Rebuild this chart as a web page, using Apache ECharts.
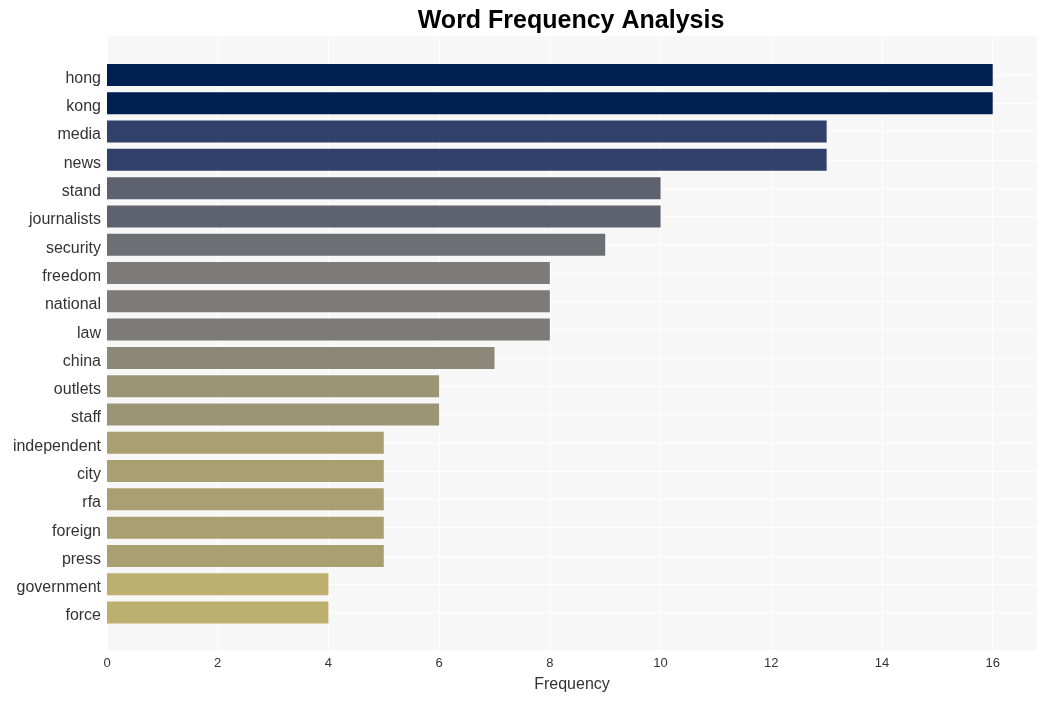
<!DOCTYPE html>
<html>
<head>
<meta charset="utf-8">
<script src="https://cdn.jsdelivr.net/npm/echarts@6/dist/echarts.min.js"></script>
<style>
  html, body { margin: 0; padding: 0; background: #fff; }
  #main { width: 1046px; height: 701px; }
</style>
</head>
<body>
<div id="main"></div>
<script>
var words = ['hong', 'kong', 'media', 'news', 'stand', 'journalists', 'security', 'freedom',
  'national', 'law', 'china', 'outlets', 'staff', 'independent', 'city', 'rfa', 'foreign',
  'press', 'government', 'force'];
var counts = [16, 16, 13, 13, 10, 10, 9, 8, 8, 8, 7, 6, 6, 5, 5, 5, 5, 5, 4, 4];
var xTicks = [0, 2, 4, 6, 8, 10, 12, 14, 16];

// colour per count (cividis-like)
var colorFor = {
  16: '#002051', 13: '#32416b', 10: '#5e626e', 9: '#6e6f74',
  8: '#7c7b78', 7: '#8b8877', 6: '#9c9575', 5: '#aa9f71', 4: '#bcaf6f'
};

var font = '"Liberation Sans", Arial, sans-serif';
var myChart = echarts.init(document.getElementById('main'));

var option = {
  backgroundColor: '#ffffff',
  title: {
    text: 'Word Frequency Analysis',
    left: 566,
    textAlign: 'center',
    top: 4,
    textStyle: { fontFamily: font, fontSize: 25, fontWeight: 'bold', color: '#000' }
  },
  grid: [
    // background panel with x axis
    { left: 107, right: 9, top: 36, bottom: 51, show: true, backgroundColor: '#f7f7f7', borderWidth: 0 },
    // bars
    { left: 107, right: 9, top: 75, bottom: 88.5 }
  ],
  xAxis: [
    {
      gridIndex: 0,
      type: 'value',
      min: 0,
      max: 16.8,
      interval: 2,
      name: 'Frequency',
      nameLocation: 'middle',
      nameGap: 27,
      nameTextStyle: { fontFamily: font, fontSize: 16, color: '#333' },
      axisLine: { show: false },
      axisTick: { show: false },
      axisLabel: {
        showMaxLabel: false,
        margin: 7,
        fontFamily: font, fontSize: 13, color: '#333',
        formatter: function (v) { return xTicks.indexOf(v) >= 0 ? String(v) : ''; }
      },
      splitLine: { show: true, lineStyle: { color: '#ffffff', width: 1 } }
    },
    {
      gridIndex: 1,
      type: 'value',
      min: 0,
      max: 16.8,
      show: false
    }
  ],
  yAxis: [
    {
      gridIndex: 0,
      type: 'value',
      show: false
    },
    {
      gridIndex: 1,
      type: 'category',
      data: words,
      inverse: true,
      boundaryGap: false,
      axisLine: { show: false },
      axisTick: { show: false },
      axisLabel: {
        margin: 6, verticalAlign: 'top', lineHeight: 7,
        fontFamily: font, fontSize: 16, color: '#333'
      },
      splitLine: { show: true, lineStyle: { color: '#ffffff', width: 1 } }
    }
  ],
  series: [
    {
      type: 'bar',
      xAxisIndex: 1,
      yAxisIndex: 1,
      barWidth: 22,
      data: counts.map(function (c) {
        return { value: c, itemStyle: { color: colorFor[c] } };
      })
    }
  ]
};
myChart.setOption(option);
</script>
</body>
</html>
